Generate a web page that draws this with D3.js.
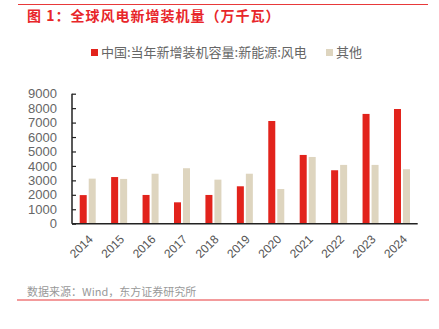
<!DOCTYPE html>
<html><head><meta charset="utf-8">
<script src="https://cdn.jsdelivr.net/npm/d3@7"></script>
<style>body{margin:0;background:#fff}svg{display:block}</style>
</head><body>
<script>
const years = ["2014","2015","2016","2017","2018","2019","2020","2021","2022","2023","2024"];
const china = [1980,3230,1990,1480,1990,2590,7110,4760,3700,7600,7940];
const other = [3120,3100,3460,3840,3050,3460,2400,4620,4070,4070,3770];
const yTicks = [0,1000,2000,3000,4000,5000,6000,7000,8000,9000];
const seriesNames = ["中国:当年新增装机容量:新能源:风电","其他"];
const colors = ["#e2231c","#ded5bf"];

const W=439,H=329;
const svg=d3.select("body").append("svg").attr("width",W).attr("height",H);
const font="'Noto Sans CJK SC','Noto Sans',sans-serif";

svg.append("line").attr("x1",18).attr("x2",428).attr("y1",4.5).attr("y2",4.5).attr("stroke","#e8393a").attr("stroke-width",1);
svg.append("text").attr("x",27).attr("y",21).attr("fill","#e8262a").attr("font-size",14).attr("font-weight","bold")
  .attr("letter-spacing",1).attr("font-family",font).text("图 1：全球风电新增装机量（万千瓦）");

const x=d3.scaleBand().domain(years).range([72,417.7]).padding(0);
const y=d3.scaleLinear().domain([0,9000]).range([223.7,93.7]);

// bars
const bw=7,gap=2;
const g=svg.append("g");
years.forEach((yr,i)=>{
  const cx=x(yr)+x.bandwidth()/2;
  g.append("rect").attr("x",cx-bw-gap/2).attr("width",bw).attr("y",y(china[i])).attr("height",y(0)-y(china[i])).attr("fill",colors[0]);
  g.append("rect").attr("x",cx+gap/2).attr("width",bw).attr("y",y(other[i])).attr("height",y(0)-y(other[i])).attr("fill",colors[1]);
});

// y axis
const ya=svg.append("g").attr("transform","translate(72,0)").call(d3.axisRight(y).tickValues(yTicks).tickSize(4).tickFormat(""));
ya.select(".domain").attr("stroke","#222").attr("stroke-width",1.5).attr("d","M0,"+y(9000)+"V"+y(0));
ya.selectAll(".tick line").attr("stroke","#222").attr("stroke-width",1.2);
svg.append("g").selectAll("text").data(yTicks).join("text")
  .attr("x",57).attr("y",d=>y(d)).attr("dy","0.36em").attr("text-anchor","end")
  .attr("fill","#666").attr("font-size",13).attr("font-family","'Liberation Sans',Arial,sans-serif").text(d=>d);

// x axis
const xa=svg.append("g").attr("transform","translate(0,"+y(0)+")").call(d3.axisBottom(x).tickSize(0).tickFormat(""));
xa.select(".domain").attr("stroke","#222").attr("stroke-width",1.5).attr("d","M72,0H417.7");
svg.append("g").selectAll("text").data(years).join("text")
  .attr("transform",d=>"translate("+(x(d)+x.bandwidth()/2)+",234) rotate(-45)")
  .attr("text-anchor","end").attr("dy","0.7em").attr("fill","#555").attr("font-size",12)
  .attr("font-family","'Liberation Sans',Arial,sans-serif").text(d=>d);

// legend
const lx=[91,326];
seriesNames.forEach((n,i)=>{
  svg.append("rect").attr("x",lx[i]).attr("y",49).attr("width",7).attr("height",7).attr("fill",colors[i]);
  svg.append("text").attr("x",lx[i]+10).attr("y",52.5).attr("dy","0.35em").attr("fill","#666").attr("font-size",13).attr("font-family",font).text(n);
});

// footer
svg.append("text").attr("x",27).attr("y",292).attr("dy","0.35em").attr("fill","#999").attr("font-size",11).attr("font-family",font).text("数据来源：Wind，东方证券研究所");
svg.append("line").attr("x1",17).attr("x2",429).attr("y1",300).attr("y2",300).attr("stroke","#e8393a").attr("stroke-width",1.2);
</script>
</body></html>
